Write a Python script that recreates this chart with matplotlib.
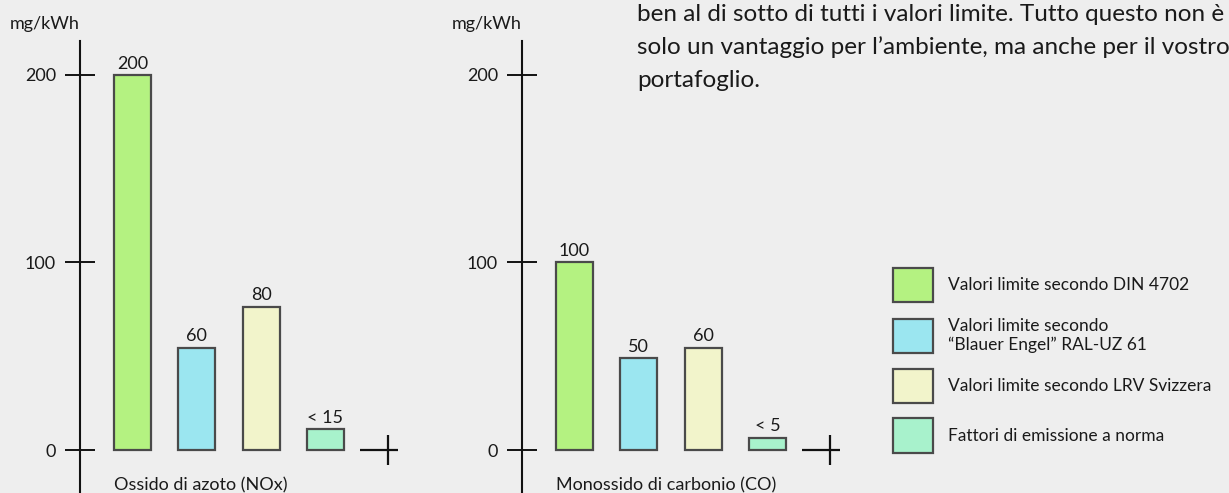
import matplotlib
matplotlib.use("Agg")
import matplotlib.pyplot as plt
import matplotlib.transforms as mtransforms

plt.rcParams["font.family"] = ["Lato", "DejaVu Sans"]

# data
LEGEND_LABELS = [
    "Valori limite secondo DIN 4702",
    "Valori limite secondo\n\u201cBlauer Engel\u201d RAL-UZ 61",
    "Valori limite secondo LRV Svizzera",
    "Fattori di emissione a norma",
]
BAR_COLORS = ["#b4f281", "#9be6f0", "#f2f4cb", "#a8f2cc"]
PANEL_TITLES = ["Ossido di azoto (NOx)", "Monossido di carbonio (CO)"]
NOX_VALUES = [200, 54.5, 76.5, 11]
NOX_LABELS = ["200", "60", "80", "< 15"]
CO_VALUES = [100, 49, 54.5, 6.5]
CO_LABELS = ["100", "50", "60", "< 5"]
Y_TICKS = [0, 100, 200]
UNIT = "mg/kWh"
PARAGRAPH = [
    "ben al di sotto di tutti i valori limite. Tutto questo non \u00e8",
    "solo un vantaggio per l\u2019ambiente, ma anche per il vostro",
    "portafoglio.",
]

W, H = 1229, 493
BG = "#eeeeee"
INK = "#1a1a1a"
EDGE = "#4a4a4a"
FS = 13

fig = plt.figure(figsize=(W / 100, H / 100), dpi=100)
fig.patch.set_facecolor(BG)

panels = [
    (80, NOX_VALUES, NOX_LABELS, PANEL_TITLES[0]),
    (522, CO_VALUES, CO_LABELS, PANEL_TITLES[1]),
]

bar_width = 0.575
handles = None
for left_px, values, labels, title in panels:
    ax = fig.add_axes([left_px / W, 0, 329 / W, (H - 41) / H])
    ax.set_facecolor("none")
    x = list(range(len(values)))
    bars = ax.bar(x, values, width=bar_width, color=BAR_COLORS,
                  edgecolor=EDGE, linewidth=1.6, zorder=2)
    if handles is None:
        handles = list(bars.patches)
    ax.bar_label(bars, labels=labels, padding=2.5, fontsize=FS, color=INK)

    ax.set_xlim(-0.816, 4.3)
    ax.set_ylim(-22.93, 218.13)
    for side in ("top", "right", "bottom"):
        ax.spines[side].set_visible(False)
    ax.spines["left"].set_linewidth(1.5)
    ax.spines["left"].set_color("#111111")
    ax.set_xticks([])
    ax.set_yticks(Y_TICKS)
    ax.tick_params(axis="y", direction="inout", length=21, width=1.4,
                   pad=6.8, labelsize=FS, colors="#111111", labelcolor=INK)

    # end-of-axis cross at the baseline
    n = len(values)
    ax.plot([n - 0.17], [0], marker="_", ms=28, mew=1.6, color="#111111",
            clip_on=False)
    ax.plot([n - 0.03], [0], marker="|", ms=21.6, mew=1.6, color="#111111",
            clip_on=False)

    trans = mtransforms.blended_transform_factory(ax.transData, ax.transAxes)
    ax.text(-bar_width / 2, 0.0177, title, transform=trans, ha="left",
            va="center", fontsize=FS, color=INK)
    ax.annotate(UNIT, xy=(0, 1), xycoords="axes fraction",
                xytext=(-25.2, 12.5), textcoords="offset points",
                ha="center", va="center", fontsize=FS, color=INK)

LEG_FS = 12.5
fig.legend(handles, LEGEND_LABELS, loc="upper left",
           bbox_to_anchor=(893 / W, 1 - 268 / H), frameon=False,
           fontsize=LEG_FS, handlelength=2.3, handleheight=2.66,
           handletextpad=0.86, labelspacing=0.88, borderpad=0,
           borderaxespad=0, labelcolor=INK)

for i, line in enumerate(PARAGRAPH):
    fig.text(637 / W, 1 - (21 + 33 * i) / H, line, ha="left",
             va="baseline", fontsize=17.5, color=INK)

fig.savefig("out.png", dpi=100, facecolor=BG)
